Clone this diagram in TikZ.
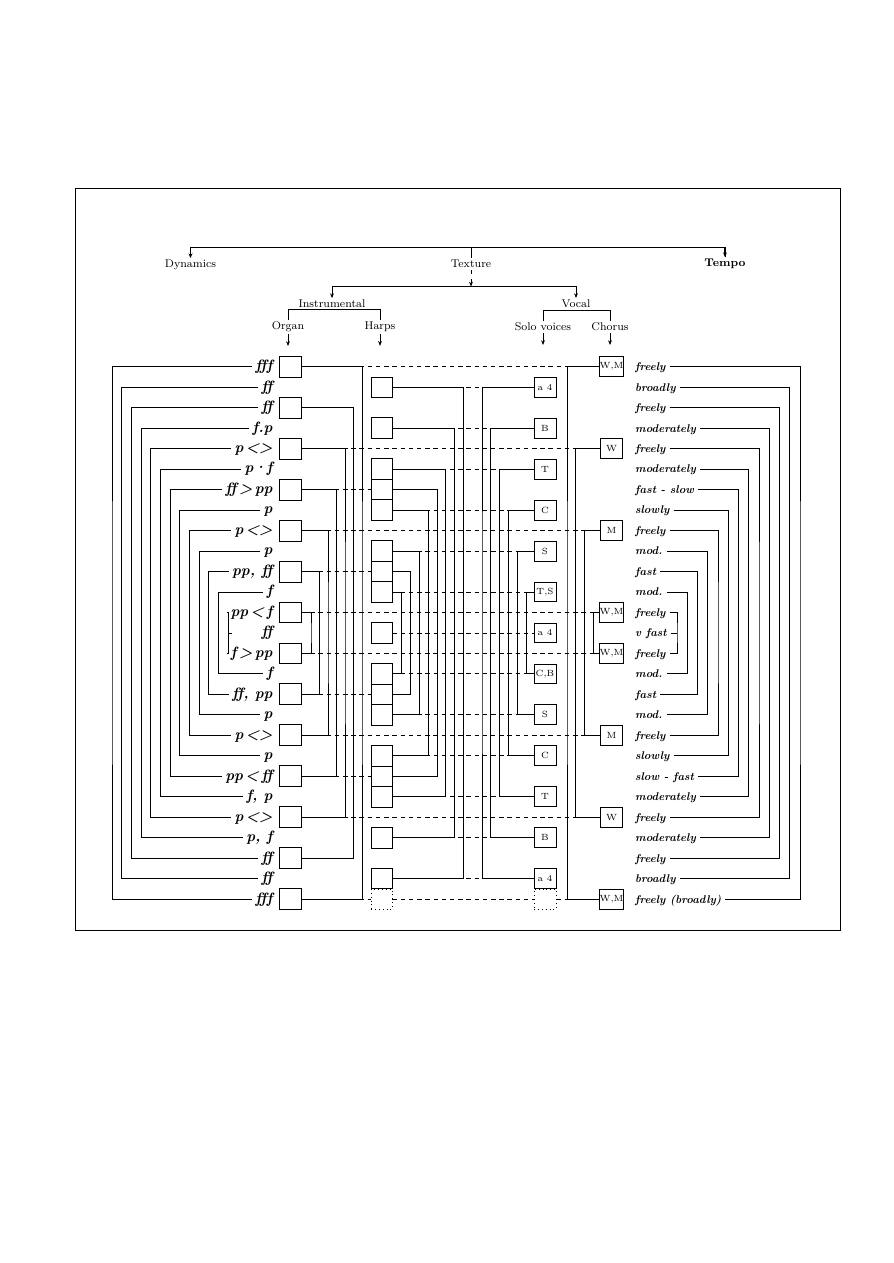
\documentclass[tikz,border=0pt]{standalone}
\usepackage{fontspec}
\usepackage{tikz}
\usetikzlibrary{arrows.meta, calc}

% row positions (one unit = one pixel of the page)
\newcommand{\rowy}[1]{366.7+20.48*#1}

\tikzset{
  >={Stealth[length=3.2pt,width=2.6pt]},
  box/.style={draw, line width=0.6pt, inner sep=0pt, minimum width=14.7pt, minimum height=13.7pt, font=\fontsize{6}{7}\selectfont},
  dotbox/.style={box, dotted},
  dynlab/.style={anchor=east, inner sep=2pt, text height=1.5ex, text depth=0.3ex, font=\fontsize{10}{12}\selectfont\bfseries\itshape},
  tmplab/.style={anchor=west, inner sep=2.5pt, text height=1.6ex, text depth=0.4ex, font=\fontsize{7.5}{9}\selectfont\bfseries\itshape},
  headlab/.style={inner sep=1pt, font=\fontsize{7.5}{9}\selectfont},
  link/.style={dash pattern=on 3pt off 2.5pt},
}

\begin{document}
\begin{tikzpicture}[x=0.2352mm, y=-0.2352mm, line width=0.6pt]
    \useasboundingbox (0,0) rectangle (893,1263);

    % Frame
    \draw[line width=0.5pt] (75,188) rectangle (840,930);

    % Headings
    \node[headlab] (dynh) at (190.5,265) {Dynamics};
    \node[headlab] (texh) at (471,264) {Texture};
    \node[headlab, font=\fontsize{7.5}{9}\selectfont\bfseries] (temh) at (725,264) {Tempo};
    \node[headlab] (insh) at (332,304) {Instrumental};
    \node[headlab] (voch) at (576,304) {Vocal};
    \node[headlab] (orgh) at (288,327) {Organ};
    \node[headlab] (harh) at (380,327) {Harps};
    \node[headlab] (solh) at (543,327) {Solo voices};
    \node[headlab] (choh) at (610,327) {Chorus};

    \coordinate (topc) at (471,247);
    \coordinate (midc) at (471,286.5);
    \draw (topc) -- (texh.north);
    \draw[->] (topc) -| (dynh.north);
    \draw (topc) -| (temh.north);
    \draw[->, line width=1.1pt] (temh.north |- topc) -- (temh.north);
    \draw[->, dashed] (texh.south) -- (midc);
    \draw[->] (midc) -| (insh.north);
    \draw[->] (midc) -| (voch.north);
    \draw (orgh.north) |- (insh.south) -| (harh.north);
    \draw (solh.north) |- (voch.south) -| (choh.north);
    \foreach \h in {orgh,harh,solh,choh}
        \draw[->] (\h.south) -- ++(0,12);

    % Dynamics
    \foreach \t [count=\i from 0] in {fff,ff,ff,f.p,p\,<>,p·f,ff\,>\,pp,p,p\,<>,p,{pp, ff},f,pp\,<\,f,ff,f\,>\,pp,f,{ff, pp},p,p\,<>,p,pp\,<\,ff,{f, p},p\,<>,{p, f},ff,ff,fff}
        \node[dynlab] (dyn\i) at (276,{\rowy{\i}}) {\t};

    % Tempo
    \foreach \t [count=\i from 0] in {freely,broadly,freely,moderately,freely,moderately,fast - slow,slowly,freely,mod.,fast,mod.,freely,v fast,freely,mod.,fast,mod.,freely,slowly,slow - fast,moderately,freely,moderately,freely,broadly,freely (broadly)}
        \node[tmplab] (tmp\i) at (631,{\rowy{\i}}) {\t};

    % Organ
    \foreach \i in {0,2,...,26}
        \node[box, minimum height=14pt] (org\i) at (290.5,{\rowy{\i}}) {};

    % Harps
    \foreach \i in {1,3,5,6,7,9,10,11,13,15,16,17,19,20,21,23,25}
        \node[box, minimum width=14pt, minimum height=13.66pt] (harp\i) at (381.5,{\rowy{\i}}) {};
    \node[dotbox, minimum width=14pt, minimum height=13.66pt] (harp26) at (381.5,{\rowy{26}}) {};

    % Solo voices
    \foreach \i/\t in {1/a 4,3/B,5/T,7/C,9/S,11/{T,S},13/a 4,15/{C,B},17/S,19/C,21/T,23/B,25/a 4}
        \node[box, minimum height=13.3pt] (solo\i) at (545,{\rowy{\i}}) {\t};
    \node[dotbox, minimum height=13.3pt] (solo26) at (545,{\rowy{26}}) {};

    % Chorus
    \foreach \i/\t in {0/{W,M},4/W,8/M,12/{W,M},14/{W,M},18/M,22/W,26/{W,M}}
        \node[box, minimum width=15.3pt, minimum height=13.3pt] (cho\i) at (611.5,{\rowy{\i}}) {\t};

    % Cross links
    \foreach \i in {0,4,8,12,14,18,22}
        \draw[link] (org\i.east) -- (cho\i.west);
    \foreach \i in {6,10,16,20}
        \draw[link] (org\i.east) -- (harp\i.west);
    \foreach \i in {1,3,5,7,9,11,13,15,17,19,21,23,25}
        \draw[link] (harp\i.east) -- (solo\i.west);
    \draw[link] (org26.east) -- (harp26.west);
    \draw[link] (harp26.east) -- (solo26.west);
    \draw[link] (solo26.east) -- (cho26.west);

    % Brackets: dynamics and tempo
    \foreach \i in {0,...,12} {
        \pgfmathtruncatemacro\j{26-\i}
        \draw (dyn\i.west) -| ({112+9.67*\i},{\rowy{13}}) |- (dyn\j.west);
        \draw (tmp\i.east) -| ({800-10.25*\i},{\rowy{13}}) |- (tmp\j.east);
    }
    \draw ({112+9.67*12},{\rowy{13}}) -- ++(4,0);
    \draw (tmp13.east) -- ({800-10.25*12},{\rowy{13}});

    % Brackets: organ
    \foreach \k in {0,...,6} {
        \pgfmathtruncatemacro\a{2*\k}
        \pgfmathtruncatemacro\b{26-2*\k}
        \draw (org\a.east) -| ({362-8.5*\k},{\rowy{13}}) |- (org\b.east);
    }

    % Brackets: harps
    \foreach \a/\b [count=\m from 0] in {1/25,3/23,5/21,6/20,7/19,9/17,10/16,11/15}
        \draw (harp\a.east) -| ({463.5-8.8*\m},{\rowy{13}}) |- (harp\b.east);

    % Brackets: solo voices
    \foreach \a/\b [count=\m from 0] in {1/25,3/23,5/21,7/19,9/17,11/15}
        \draw (solo\a.west) -| ({482+8.9*\m},{\rowy{13}}) |- (solo\b.west);

    % Brackets: chorus
    \foreach \a/\b [count=\m from 0] in {0/26,4/22,8/18,12/14}
        \draw (cho\a.west) -| ({567+8.7*\m},{\rowy{13}}) |- (cho\b.west);
\end{tikzpicture}
\end{document}
